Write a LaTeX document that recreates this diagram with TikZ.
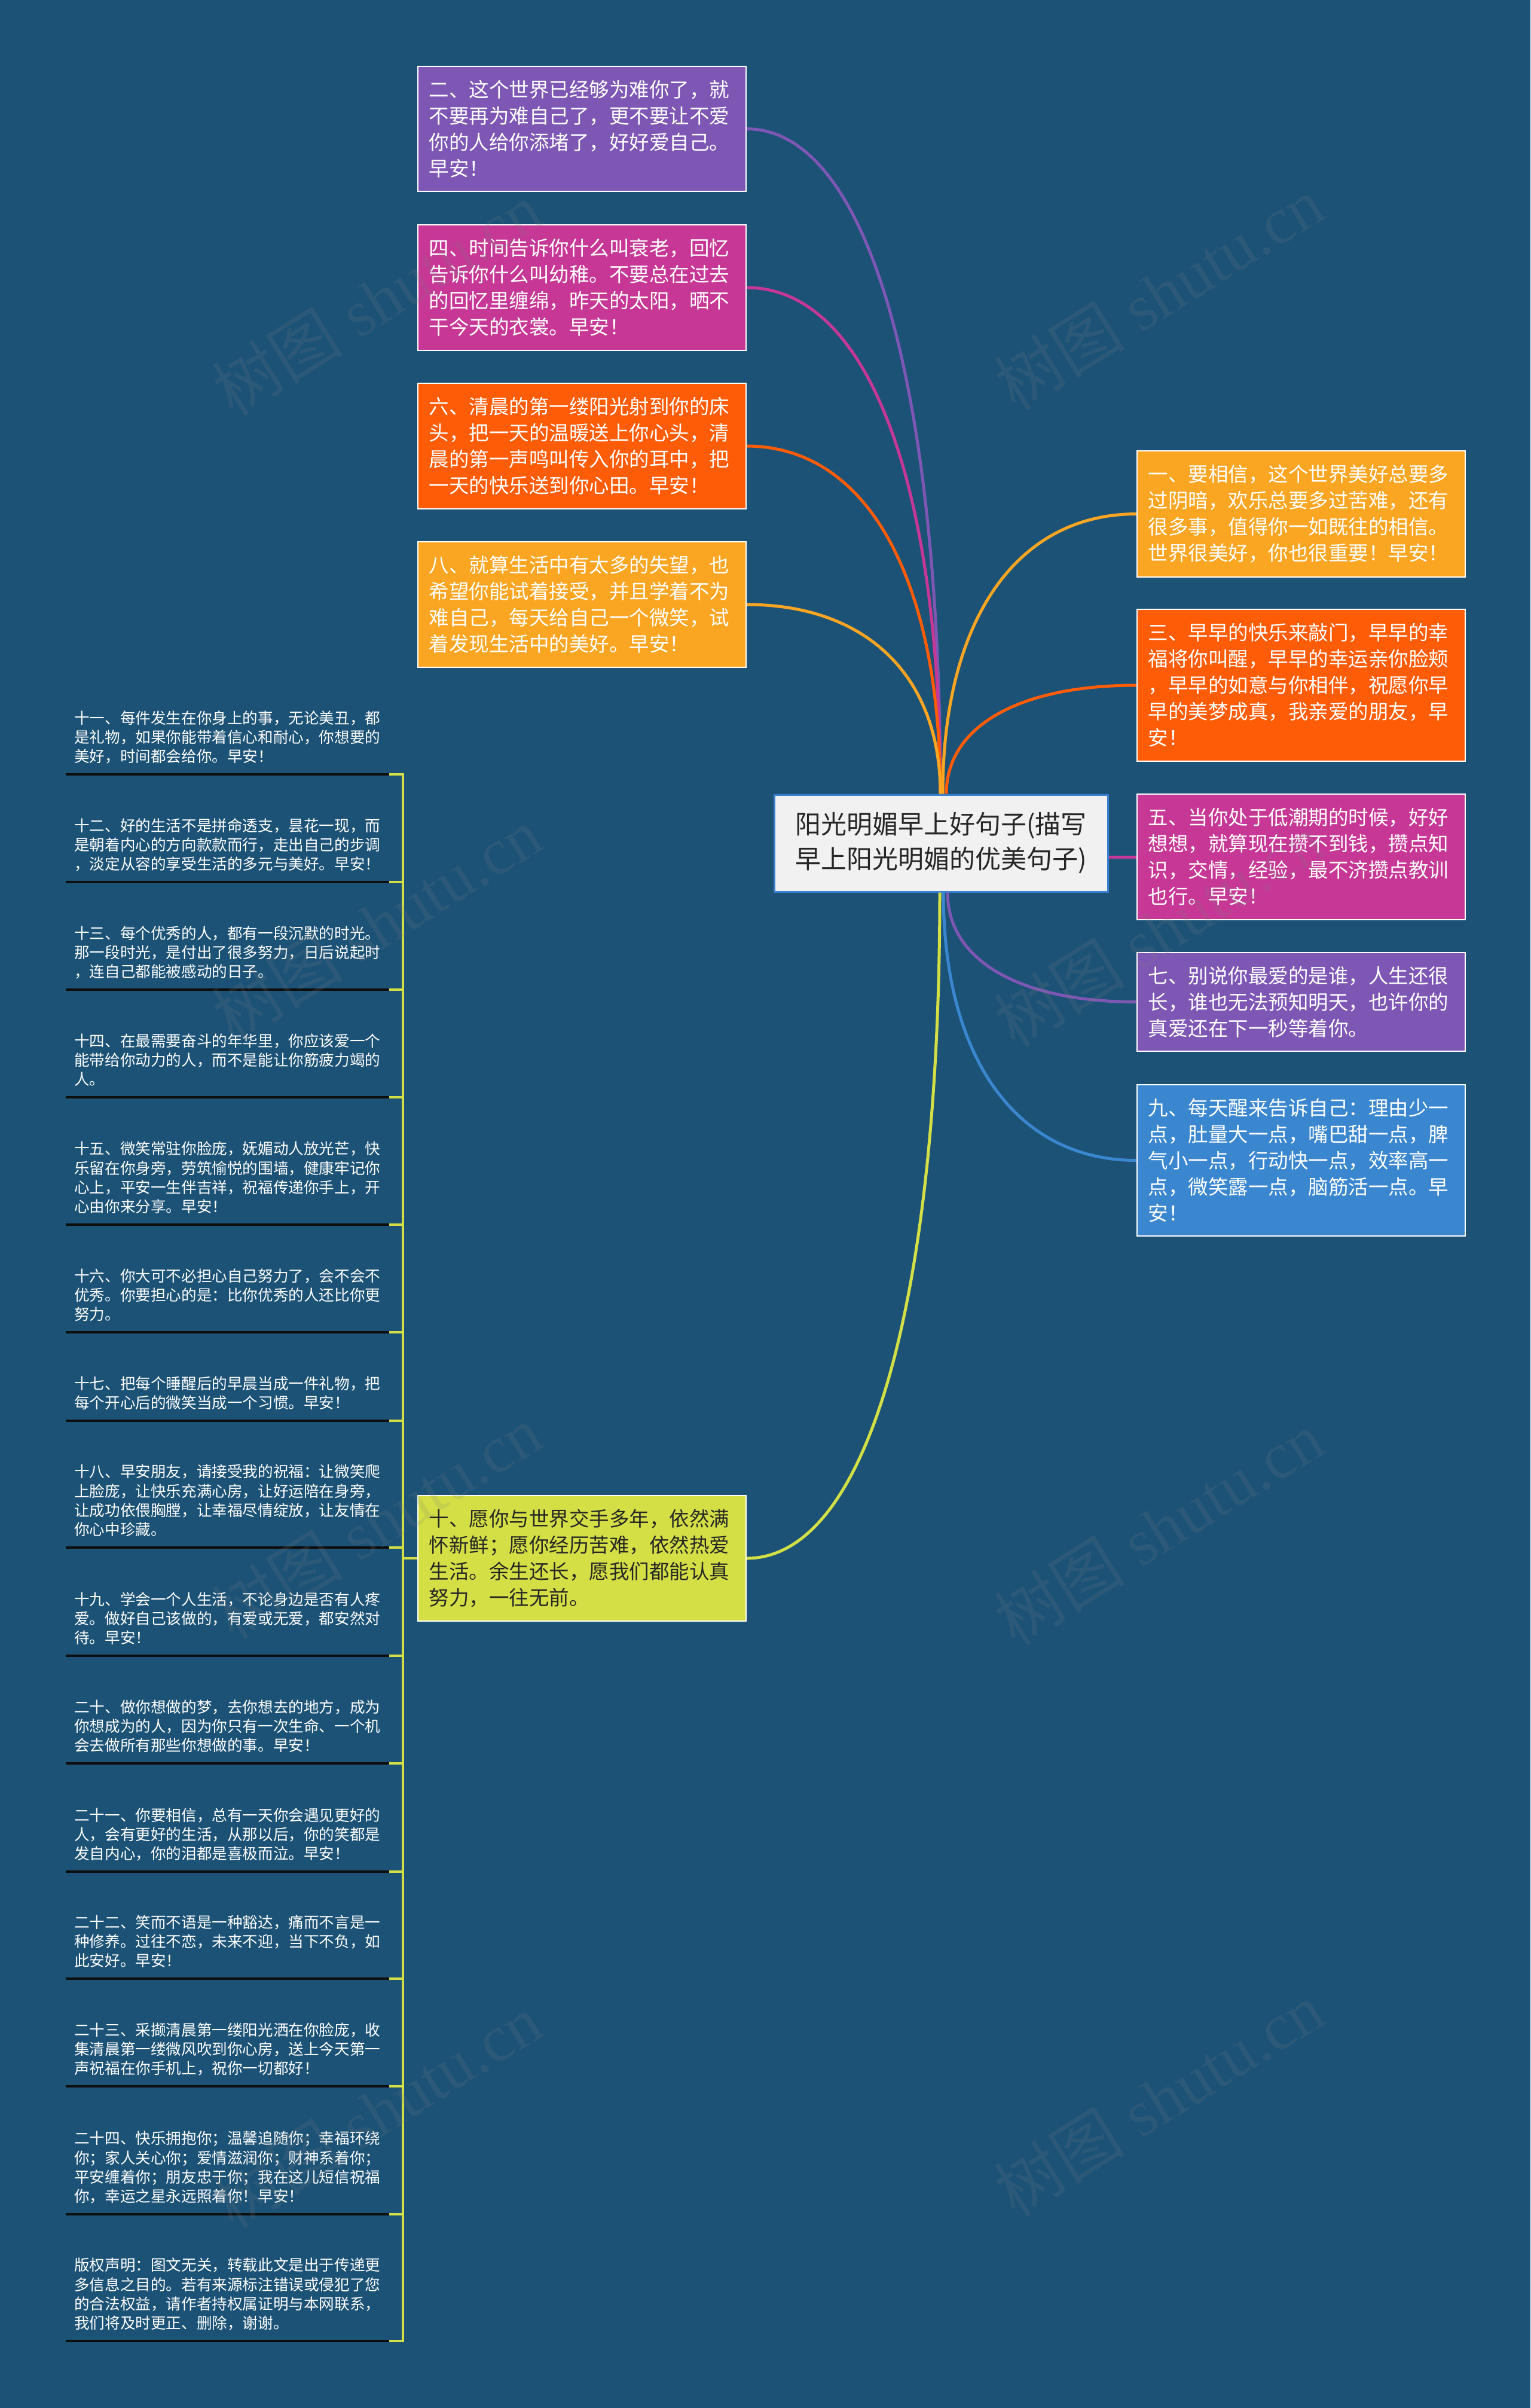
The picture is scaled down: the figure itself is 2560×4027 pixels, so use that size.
\documentclass[tikz,border=0pt]{standalone}
\usepackage{fontspec}
\setmainfont{Liberation Serif}
\newfontfamily\cjk{Noto Sans CJK SC}
\usetikzlibrary{calc}

\definecolor{bg}{RGB}{27,82,118}
\definecolor{cpurple}{RGB}{126,87,180}
\definecolor{cmagenta}{RGB}{198,55,150}
\definecolor{corange}{RGB}{255,92,8}
\definecolor{camber}{RGB}{251,166,34}
\definecolor{cblue}{RGB}{58,135,208}
\definecolor{cyellow}{RGB}{211,223,69}
\definecolor{cborder}{RGB}{58,127,208}
\definecolor{ctext}{RGB}{38,38,38}
\definecolor{cline}{RGB}{14,14,14}
\definecolor{cfill}{RGB}{241,241,241}

\newcommand\dpfix{\rule[-20pt]{0pt}{0pt}}
\newcommand\curv[3]{%
  \draw[conn,#1] (#2) .. controls ($(#2)!0.62!(#2 |- #3)$) and ($(#3)!0.62!(#2 |- #3)$) .. (#3);}

\tikzset{
  mbox/.style={draw=white, line width=2pt, inner sep=0pt, text width=512pt,
    minimum width=549pt, align=left, text=white, anchor=north west,
    font=\cjk\fontsize{33.5}{44}\selectfont},
  central/.style={fill=cfill, draw=cborder, line width=3pt, inner sep=0pt,
    minimum width=558pt, minimum height=162pt, align=center, text=ctext,
    font=\cjk\fontsize{43}{58}\selectfont},
  leaf/.style={anchor=south west, inner xsep=14pt, inner ysep=0pt, text width=513pt,
    align=left, text=white, font=\cjk\fontsize{25.6}{32.4}\selectfont},
  uline/.style={draw=cline, line width=3.5pt},
  brk/.style={draw=cyellow, line width=4pt, line join=miter},
  conn/.style={line width=5pt},
  wm/.style={rotate=32, text=gray, opacity=0.16, font=\fontsize{110}{110}\selectfont}
}

\begin{document}
\begin{tikzpicture}[x=1pt,y=-1pt]
\fill[bg] (0,0) rectangle (2560,4027);
\useasboundingbox (0,0) rectangle (2560,4027);

% central node
\node[central] (c) at (1574,1410) {阳光明媚早上好句子(描写\\早上阳光明媚的优美句子)};

% left top boxes
\node[mbox, fill=cpurple, minimum height=209pt] (b2) at (698,110)
  {二、这个世界已经够为难你了，就\\不要再为难自己了，更不要让不爱\\你的人给你添堵了，好好爱自己。\\早安！};
\node[mbox, fill=cmagenta, minimum height=210pt] (b4) at (698,375)
  {四、时间告诉你什么叫衰老，回忆\\告诉你什么叫幼稚。不要总在过去\\的回忆里缠绵，昨天的太阳，晒不\\干今天的衣裳。早安！};
\node[mbox, fill=corange, minimum height=210pt] (b6) at (698,640)
  {六、清晨的第一缕阳光射到你的床\\头，把一天的温暖送上你心头，清\\晨的第一声鸣叫传入你的耳中，把\\一天的快乐送到你心田。早安！};
\node[mbox, fill=camber, minimum height=210pt] (b8) at (698,905)
  {八、就算生活中有太多的失望，也\\希望你能试着接受，并且学着不为\\难自己，每天给自己一个微笑，试\\着发现生活中的美好。早安！};
\node[mbox, fill=cyellow, text=ctext, minimum height=210pt] (b10) at (698,2500)
  {十、愿你与世界交手多年，依然满\\怀新鲜；愿你经历苦难，依然热爱\\生活。余生还长，愿我们都能认真\\努力，一往无前。};

% right boxes
\node[mbox, fill=camber, minimum height=211pt] (b1) at (1901,753)
  {一、要相信，这个世界美好总要多\\过阴暗，欢乐总要多过苦难，还有\\很多事，值得你一如既往的相信。\\世界很美好，你也很重要！早安！};
\node[mbox, fill=corange, minimum height=254pt] (b3) at (1901,1018)
  {三、早早的快乐来敲门，早早的幸\\福将你叫醒，早早的幸运亲你脸颊\\，早早的如意与你相伴，祝愿你早\\早的美梦成真，我亲爱的朋友，早\\安！};
\node[mbox, fill=cmagenta, minimum height=210pt] (b5) at (1901,1327)
  {五、当你处于低潮期的时候，好好\\想想，就算现在攒不到钱，攒点知\\识，交情，经验，最不济攒点教训\\也行。早安！};
\node[mbox, fill=cpurple, minimum height=165pt] (b7) at (1901,1592)
  {七、别说你最爱的是谁，人生还很\\长，谁也无法预知明天，也许你的\\真爱还在下一秒等着你。};
\node[mbox, fill=cblue, minimum height=253pt] (b9) at (1901,1813)
  {九、每天醒来告诉自己：理由少一\\点，肚量大一点，嘴巴甜一点，脾\\气小一点，行动快一点，效率高一\\点，微笑露一点，脑筋活一点。早\\安！};

% start points on the central node
\coordinate (sl) at ($(c.north)+(-1,0)$);
\coordinate (s1) at ($(c.north)+(3,0)$);
\coordinate (s3) at ($(c.north)+(9,0)$);
\coordinate (s10) at ($(c.south)+(-2,0)$);
\coordinate (s9) at ($(c.south)+(4,0)$);
\coordinate (s7) at ($(c.south)+(11,0)$);

% connectors
\curv{cpurple}{sl}{b2.east}
\curv{cmagenta}{sl}{b4.east}
\curv{corange}{sl}{b6.east}
\curv{camber}{sl}{b8.east}
\curv{camber}{s1}{b1.west}
\curv{corange}{s3}{b3.west}
\draw[conn,cmagenta] (b5.west -| c.east) -- (b5.west);
\curv{cpurple}{s7}{b7.west}
\curv{cblue}{s9}{b9.west}
\curv{cyellow}{s10}{b10.east}

% leaves
\node[leaf] (l11) at (110,1295) {十一、每件发生在你身上的事，无论美丑，都\\是礼物，如果你能带着信心和耐心，你想要的\\美好，时间都会给你。早安！\dpfix};
\node[leaf] (l12) at (110,1475) {十二、好的生活不是拼命透支，昙花一现，而\\是朝着内心的方向款款而行，走出自己的步调\\，淡定从容的享受生活的多元与美好。早安！\dpfix};
\node[leaf] (l13) at (110,1655) {十三、每个优秀的人，都有一段沉默的时光。\\那一段时光，是付出了很多努力，日后说起时\\，连自己都能被感动的日子。\dpfix};
\node[leaf] (l14) at (110,1835) {十四、在最需要奋斗的年华里，你应该爱一个\\能带给你动力的人，而不是能让你筋疲力竭的\\人。\dpfix};
\node[leaf] (l15) at (110,2048) {十五、微笑常驻你脸庞，妩媚动人放光芒，快\\乐留在你身旁，劳筑愉悦的围墙，健康牢记你\\心上，平安一生伴吉祥，祝福传递你手上，开\\心由你来分享。早安！\dpfix};
\node[leaf] (l16) at (110,2228) {十六、你大可不必担心自己努力了，会不会不\\优秀。你要担心的是：比你优秀的人还比你更\\努力。\dpfix};
\node[leaf] (l17) at (110,2376) {十七、把每个睡醒后的早晨当成一件礼物，把\\每个开心后的微笑当成一个习惯。早安！\dpfix};
\node[leaf] (l18) at (110,2588) {十八、早安朋友，请接受我的祝福：让微笑爬\\上脸庞，让快乐充满心房，让好运陪在身旁，\\让成功依偎胸膛，让幸福尽情绽放，让友情在\\你心中珍藏。\dpfix};
\node[leaf] (l19) at (110,2769) {十九、学会一个人生活，不论身边是否有人疼\\爱。做好自己该做的，有爱或无爱，都安然对\\待。早安！\dpfix};
\node[leaf] (l20) at (110,2949) {二十、做你想做的梦，去你想去的地方，成为\\你想成为的人，因为你只有一次生命、一个机\\会去做所有那些你想做的事。早安！\dpfix};
\node[leaf] (l21) at (110,3130) {二十一、你要相信，总有一天你会遇见更好的\\人，会有更好的生活，从那以后，你的笑都是\\发自内心，你的泪都是喜极而泣。早安！\dpfix};
\node[leaf] (l22) at (110,3309) {二十二、笑而不语是一种豁达，痛而不言是一\\种修养。过往不恋，未来不迎，当下不负，如\\此安好。早安！\dpfix};
\node[leaf] (l23) at (110,3489) {二十三、采撷清晨第一缕阳光洒在你脸庞，收\\集清晨第一缕微风吹到你心房，送上今天第一\\声祝福在你手机上，祝你一切都好！\dpfix};
\node[leaf] (l24) at (110,3703) {二十四、快乐拥抱你；温馨追随你；幸福环绕\\你；家人关心你；爱情滋润你；财神系着你；\\平安缠着你；朋友忠于你；我在这儿短信祝福\\你，幸运之星永远照着你！早安！\dpfix};
\node[leaf] (l25) at (110,3915) {版权声明：图文无关，转载此文是出于传递更\\多信息之目的。若有来源标注错误或侵犯了您\\的合法权益，请作者持权属证明与本网联系，\\我们将及时更正、删除，谢谢。\dpfix};

% underlines and bracket
\foreach \n in {11,...,25} {
  \draw[uline] (l\n.south west) -- (l\n.south east);
  \coordinate (k\n) at ($(l\n.south east)+(23,0)$);
}
\draw[brk] (l11.south east) -- (k11) -- (k25) -- (l25.south east);
\foreach \n in {12,...,24} {
  \draw[brk] (l\n.south east) -- (k\n);
}
\draw[brk] (b10.west) -- (b10.west -| k11);

% watermarks
\node[wm] (w1) at (630,500) {{\cjk 树图} shutu.cn};
\node[wm] (w2) at (1938,490) {{\cjk 树图} shutu.cn};
\node[wm] (w3) at (630,1545) {{\cjk 树图} shutu.cn};
\node[wm] (w4) at (1938,1555) {{\cjk 树图} shutu.cn};
\node[wm] (w5) at (630,2545) {{\cjk 树图} shutu.cn};
\node[wm] (w6) at (1938,2555) {{\cjk 树图} shutu.cn};
\node[wm] (w7) at (630,3530) {{\cjk 树图} shutu.cn};
\node[wm] (w8) at (1938,3510) {{\cjk 树图} shutu.cn};
\end{tikzpicture}
\end{document}
